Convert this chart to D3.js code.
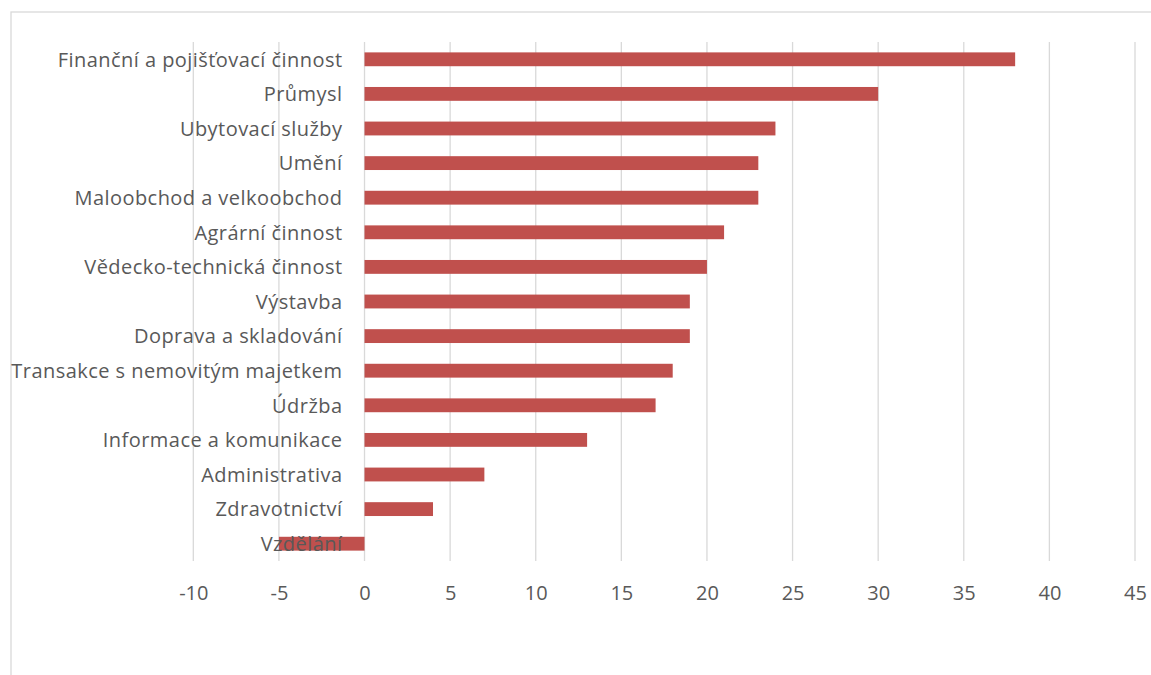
<!DOCTYPE html>
<html>
<head>
<meta charset="utf-8">
<script src="https://cdn.jsdelivr.net/npm/d3@7.9.0/dist/d3.min.js"></script>
<style>
  html, body { margin: 0; padding: 0; background: #fff; }
  svg { display: block; }
  text { font-family: "Open Sans", "Noto Sans", sans-serif; fill: #595959; }
</style>
</head>
<body>
<div id="chart"></div>
<script>
const categories = [
  'Finanční a pojišťovací činnost',
  'Průmysl',
  'Ubytovací služby',
  'Umění',
  'Maloobchod a velkoobchod',
  'Agrární činnost',
  'Vědecko-technická činnost',
  'Výstavba',
  'Doprava a skladování',
  'Transakce s nemovitým majetkem',
  'Údržba',
  'Informace a komunikace',
  'Administrativa',
  'Zdravotnictví',
  'Vzdělání'
];
const values = [38, 30, 24, 23, 23, 21, 20, 19, 19, 18, 17, 13, 7, 4, -5];
const xTicks = [-10, -5, 0, 5, 10, 15, 20, 25, 30, 35, 40, 45];

const width = 1151, height = 675;
const usable = { left: 193.3, right: 1135, top: 42, bottom: 561 };

const svg = d3.select('#chart').append('svg')
  .attr('width', width)
  .attr('height', height);

// chart frame
svg.append('rect')
  .attr('x', 11).attr('y', 12)
  .attr('width', width).attr('height', height)
  .attr('fill', 'none')
  .attr('stroke', '#d9d9d9')
  .attr('stroke-width', 1.3);

const x = d3.scaleLinear().domain([-10, 45]).range([usable.left, usable.right]);
const y = d3.scaleBand().domain(categories).range([usable.top, usable.bottom])
  .paddingInner(0.6)
  .paddingOuter(0.3);

// gridlines
svg.append('g')
  .attr('class', 'gridlines')
  .selectAll('line')
  .data(xTicks)
  .join('line')
    .attr('x1', d => x(d)).attr('x2', d => x(d))
    .attr('y1', usable.top).attr('y2', usable.bottom)
    .attr('stroke', '#d9d9d9')
    .attr('stroke-width', 1.3);

// bars
const data = categories.map((c, i) => ({ category: c, value: values[i] }));
svg.append('g')
  .selectAll('rect')
  .data(data)
  .join('rect')
    .attr('x', d => x(Math.min(0, d.value)))
    .attr('y', d => y(d.category))
    .attr('width', d => Math.abs(x(d.value) - x(0)))
    .attr('height', y.bandwidth())
    .attr('fill', '#c0504d');

// category labels, right-aligned left of zero line
const labelX = x(0) - 22;
svg.append('g')
  .selectAll('text')
  .data(categories)
  .join('text')
    .attr('x', labelX)
    .attr('y', d => y(d) + y.bandwidth() / 2)
    .attr('dy', '0.36em')
    .attr('text-anchor', 'end')
    .style('font-size', '20px')
    .style('letter-spacing', '0.45px')
    .text(d => d);

// x axis tick labels
const xAxis = d3.axisBottom(x).tickValues(xTicks).tickSize(0).tickPadding(0)
  .tickFormat(d => String(d));
svg.append('g')
  .attr('transform', `translate(0, 586)`)
  .call(xAxis)
  .call(g => g.select('.domain').remove())
  .call(g => g.selectAll('text')
    .attr('fill', '#595959')
    .style('font-family', '"Open Sans", "Noto Sans", sans-serif')
    .style('font-size', '20px'));
</script>
</body>
</html>
